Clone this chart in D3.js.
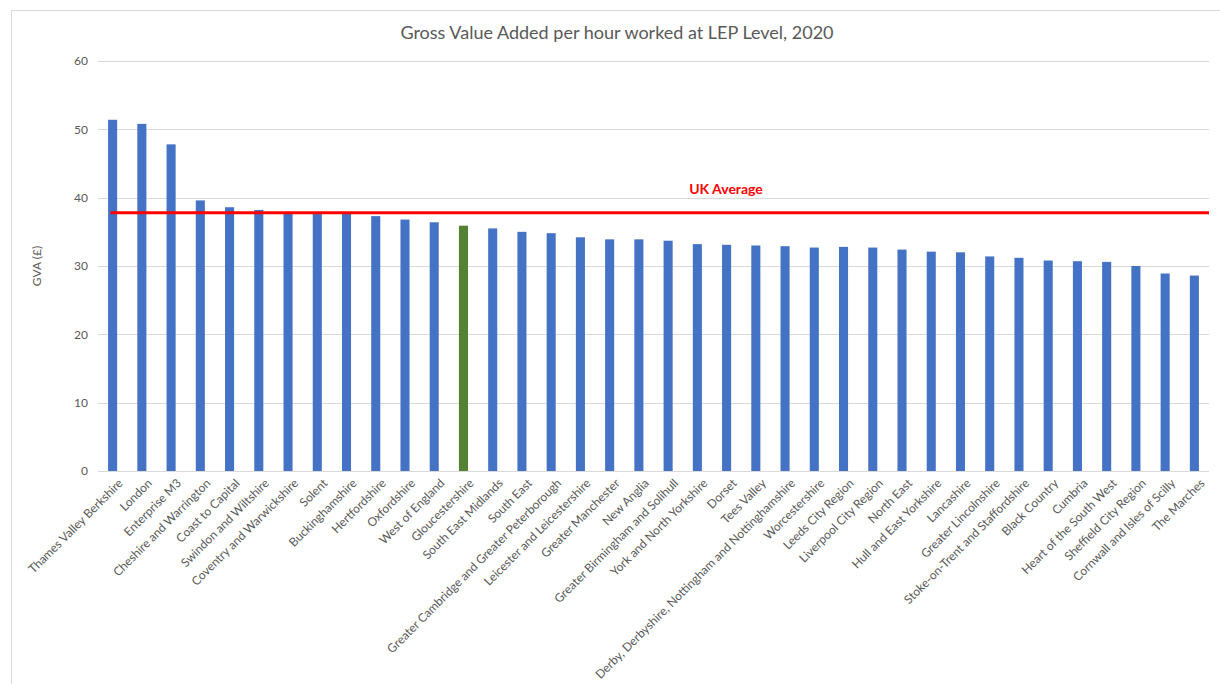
<!DOCTYPE html>
<html>
<head>
<title>GVA per hour worked</title>
<style>
  body { margin: 0; background: #fff; }
  text { font-family: Lato, "Open Sans", sans-serif; fill: #595959; }
  .grid line { stroke: #d9d9d9; stroke-width: 1; }
  .xlab text { font-size: 12px; }
</style>
</head>
<body>
<script src="https://cdnjs.cloudflare.com/ajax/libs/d3/7.8.5/d3.min.js"></script>
<script>
var leps = ["Thames Valley Berkshire", "London", "Enterprise M3", "Cheshire and Warrington",
  "Coast to Capital", "Swindon and Wiltshire", "Coventry and Warwickshire", "Solent",
  "Buckinghamshire", "Hertfordshire", "Oxfordshire", "West of England", "Gloucestershire",
  "South East Midlands", "South East", "Greater Cambridge and Greater Peterborough",
  "Leicester and Leicestershire", "Greater Manchester", "New Anglia",
  "Greater Birmingham and Solihull", "York and North Yorkshire", "Dorset", "Tees Valley",
  "Derby, Derbyshire, Nottingham and Nottinghamshire", "Worcestershire", "Leeds City Region",
  "Liverpool City Region", "North East", "Hull and East Yorkshire", "Lancashire",
  "Greater Lincolnshire", "Stoke-on-Trent and Staffordshire", "Black Country", "Cumbria",
  "Heart of the South West", "Sheffield City Region", "Cornwall and Isles of Scilly", "The Marches"];

var gva = [51.4, 50.8, 47.8, 39.6, 38.6, 38.2, 37.9, 37.9, 37.8, 37.3, 36.8, 36.4, 35.9,
  35.5, 35.0, 34.8, 34.2, 33.9, 33.9, 33.7, 33.2, 33.1, 33.0, 32.9, 32.7, 32.8, 32.7,
  32.4, 32.1, 32.0, 31.4, 31.2, 30.8, 30.7, 30.6, 30.0, 28.9, 28.6];

var highlighted = "Gloucestershire";
var ukAverage = 37.8;
var yTicks = [0, 10, 20, 30, 40, 50, 60];

var width = 1220, height = 684;

var svg = d3.select("body").append("svg")
  .attr("width", width)
  .attr("height", height);

// outer frame (only top and left edges fall inside the picture)
svg.append("rect")
  .attr("x", 11.5).attr("y", 10.5)
  .attr("width", 1300).attr("height", 800)
  .attr("fill", "none")
  .attr("stroke", "#d9d9d9");

var x = d3.scaleBand()
  .domain(leps)
  .range([98, 1209])
  .paddingInner(0.69)
  .paddingOuter(0.345);

var y = d3.scaleLinear()
  .domain([0, 60])
  .range([471, 61]);

svg.append("text")
  .attr("x", 617).attr("y", 39)
  .attr("text-anchor", "middle")
  .style("font-size", "18px")
  .text("Gross Value Added per hour worked at LEP Level, 2020");

// gridlines
svg.append("g").attr("class", "grid")
  .selectAll("line")
  .data(yTicks)
  .enter().append("line")
  .attr("x1", 98).attr("x2", 1209)
  .attr("y1", function(d) { return Math.round(y(d)) + 0.5; })
  .attr("y2", function(d) { return Math.round(y(d)) + 0.5; });

var yAxis = svg.append("g")
  .attr("transform", "translate(88,0)")
  .call(d3.axisLeft(y).tickValues(yTicks).tickSize(0).tickPadding(0));
yAxis.select(".domain").remove();
yAxis.selectAll("text")
  .style("font-size", "12px")
  .style("font-family", "Lato, sans-serif")
  .attr("fill", "#595959");

svg.append("text")
  .attr("transform", "translate(41,266) rotate(-90)")
  .attr("text-anchor", "middle")
  .style("font-size", "12px")
  .text("GVA (£)");

svg.append("g")
  .selectAll("rect")
  .data(leps)
  .enter().append("rect")
  .attr("x", function(d) { return x(d); })
  .attr("y", function(d, i) { return y(gva[i]); })
  .attr("width", x.bandwidth())
  .attr("height", function(d, i) { return y(0) - y(gva[i]); })
  .attr("fill", function(d) { return d === highlighted ? "#548235" : "#4472c4"; });

// UK average line
svg.append("line")
  .attr("x1", x(leps[0]) + x.bandwidth() / 2 - 2)
  .attr("x2", 1209)
  .attr("y1", y(ukAverage)).attr("y2", y(ukAverage))
  .attr("stroke", "#ff0000")
  .attr("stroke-width", 3);

svg.append("text")
  .attr("x", 726).attr("y", 194)
  .attr("text-anchor", "middle")
  .style("font-size", "14px")
  .style("font-weight", "bold")
  .style("fill", "#ff0000")
  .text("UK Average");

svg.append("g").attr("class", "xlab")
  .selectAll("text")
  .data(leps)
  .enter().append("text")
  .attr("transform", function(d) {
    return "translate(" + (x(d) + x.bandwidth() / 2 + 5) + ",478) rotate(-45)";
  })
  .attr("text-anchor", "end")
  .attr("dy", "0.7em")
  .text(function(d) { return d; });
</script>
</body>
</html>
